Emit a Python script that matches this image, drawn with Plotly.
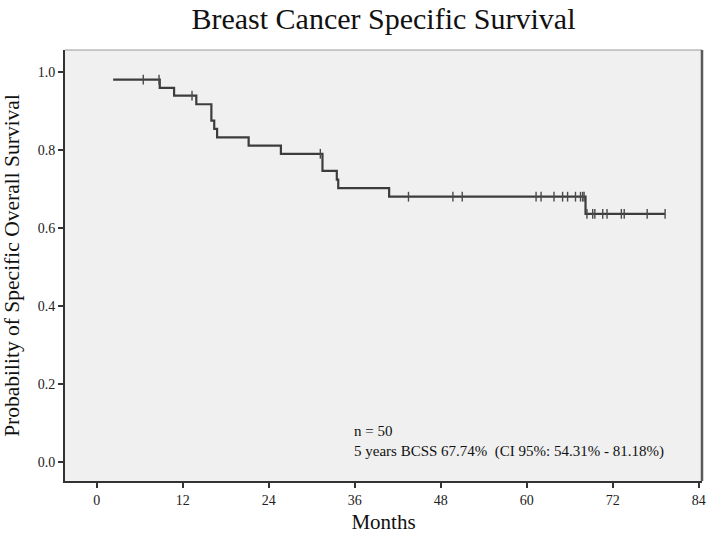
import plotly.graph_objects as go

# Kaplan-Meier step data (months, survival probability after each step)
step_times = [2.3, 8.8, 10.8, 13.9, 16.0, 16.4, 16.8, 21.2, 25.7, 31.5, 33.5, 33.7, 40.8, 68.2]
step_surv = [0.980, 0.959, 0.939, 0.917, 0.875, 0.854, 0.832, 0.811, 0.790, 0.746, 0.724, 0.702, 0.680, 0.636]
last_time = 79.3

# Censored observations (months)
censor_times = [6.5, 8.7, 13.3, 31.2, 43.5, 49.7, 51.0, 61.3, 62.0, 63.8, 65.0, 65.7,
                66.8, 67.5, 67.8, 68.0, 68.4, 69.2, 69.5, 70.6, 71.2, 73.2, 73.6, 76.8, 79.3]

x_ticks = [0, 12, 24, 36, 48, 60, 72, 84]
y_ticks = [0.0, 0.2, 0.4, 0.6, 0.8, 1.0]

title_text = "Breast Cancer Specific Survival"
x_title = "Months"
y_title = "Probability of Specific Overall Survival"
note_lines = ["n = 50", "5 years BCSS 67.74%  (CI 95%: 54.31% - 81.18%)"]


def surv_at(t):
    s = step_surv[0]
    for tt, ss in zip(step_times, step_surv):
        if tt <= t:
            s = ss
    return s


line_x = step_times + [last_time]
line_y = step_surv + [step_surv[-1]]
censor_y = [surv_at(t) for t in censor_times]

FONT = "Liberation Serif, Times New Roman, serif"
DARK = "#3c3c3c"

fig = go.Figure()
fig.add_trace(go.Scatter(
    x=line_x, y=line_y, mode="lines", line=dict(shape="hv", color=DARK, width=2.2),
    hoverinfo="skip", showlegend=False))
fig.add_trace(go.Scatter(
    x=censor_times, y=censor_y, mode="markers",
    marker=dict(symbol="line-ns-open", size=7, color="#4a4a4a",
                line=dict(color="#4a4a4a", width=1.4)),
    showlegend=False))

fig.update_layout(
    width=708, height=534,
    margin=dict(l=65, r=6, t=50, b=53),
    paper_bgcolor="white", plot_bgcolor="#f0f0f0",
    font=dict(family=FONT, color="#111"),
    title=dict(text=title_text, x=(65 + 702) / 2 / 708, xanchor="center",
               y=1 - 18 / 534, yanchor="middle", yref="container",
               font=dict(size=30, family=FONT, color="#111")),
    xaxis=dict(range=[-4.42, 84.45], tickvals=x_ticks, ticks="outside", ticklen=5,
               tickwidth=1.5, tickcolor="#333", showline=True, linecolor="#333",
               linewidth=2, showgrid=False, zeroline=False, automargin=False,
               tickfont=dict(size=14, family=FONT, color="#222"),
               title=dict(text=x_title, standoff=10, font=dict(size=21, family=FONT, color="#111"))),
    yaxis=dict(range=[-0.0487, 1.056], tickvals=y_ticks, tickformat=".1f", ticks="outside",
               ticklen=5, tickwidth=1.5, tickcolor="#333", showline=True, linecolor="#333",
               linewidth=2, showgrid=False, zeroline=False, automargin=False,
               tickfont=dict(size=14, family=FONT, color="#222"),
               title=dict(text=y_title, standoff=12, font=dict(size=21.5, family=FONT, color="#111"))),
    shapes=[
        dict(type="line", xref="paper", yref="paper", x0=0, x1=1, y0=1, y1=1,
             line=dict(color="#9a9a9a", width=1.2)),
        dict(type="line", xref="paper", yref="paper", x0=1, x1=1, y0=0, y1=1,
             line=dict(color="#5a5a5a", width=2.5)),
    ],
    annotations=[dict(text="<br>".join(note_lines), xref="paper", yref="paper",
                      x=(351.5 - 65) / 637, y=(481 - 441) / 431, xanchor="left",
                      yanchor="middle", align="left", showarrow=False,
                      font=dict(size=15, family=FONT, color="#111"))],
)

fig.write_html("out.html", config={"displayModeBar": False},
               post_script="document.body.style.margin='0';")
